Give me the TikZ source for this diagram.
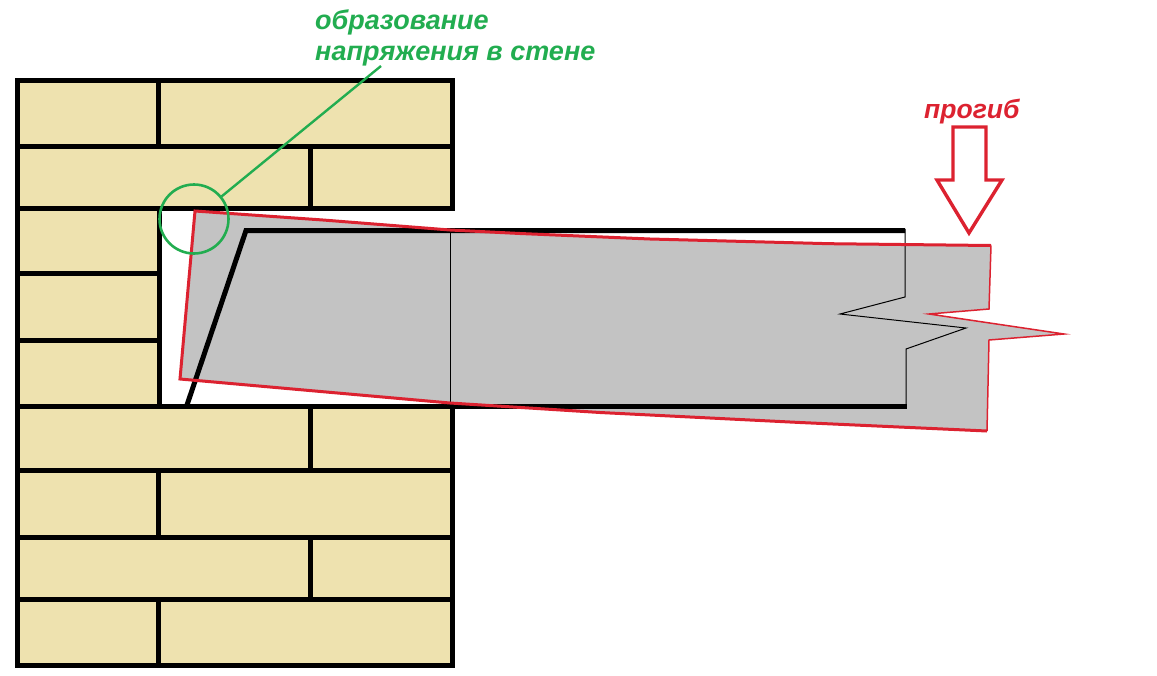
\documentclass[tikz,border=0pt]{standalone}
\usepackage{fontspec}
\setmainfont{Liberation Sans}
\definecolor{brick}{HTML}{EEE2AF}
\definecolor{slab}{HTML}{C3C3C3}
\definecolor{redink}{HTML}{DC2230}
\definecolor{greenink}{HTML}{22AD50}
\tikzset{
  mortar/.style={draw=black,line width=5pt,line cap=butt,line join=miter},
  slabfill/.style={fill=slab},
  redline/.style={draw=redink,line width=3pt,line join=miter},
  thinline/.style={draw=black,line width=1pt,line join=miter},
  loadarrow/.style={draw=redink,fill=white,line width=3.4pt,line join=miter},
  lbl/.style={font=\bfseries\itshape\fontsize{27}{31}\selectfont,anchor=base west,inner sep=0pt,align=left}
}
\begin{document}
\begin{tikzpicture}[x=1pt,y=-1pt]
\useasboundingbox (0,0) rectangle (1157,675);
% wall
\fill[brick] (17,80) -- (453,80) -- (453,208) -- (160,208) -- (160,405) -- (453,405) -- (453,665) -- (17,665) -- cycle;
% slab (deflected)
\path[slabfill] (195,211) -- (323,220) -- (450,230) -- (520,233.5) -- (650,239) -- (830,243.7) -- (991,245.5) -- (989,309) -- (929,314) -- (1064,334) -- (989,340) -- (987,431) -- (800,422.5) -- (600,412.5) -- (450,403) -- (180,379) -- cycle;
% wall outline and joints
\draw[mortar] (17,80.5) -- (452.5,80.5) -- (452.5,208.5) -- (159,208.5) -- (159,406) -- (452.5,406) -- (452.5,665.5) -- (17,665.5) -- cycle;
\draw[mortar] (452.5,406.5) -- (907,406.5);
\draw[mortar] (17,146.5) -- (452.5,146.5);
\draw[mortar] (17,208.5) -- (159,208.5);
\draw[mortar] (17,273.5) -- (159,273.5);
\draw[mortar] (17,340.5) -- (159,340.5);
\draw[mortar] (17,406) -- (159,406);
\draw[mortar] (17,470.5) -- (452.5,470.5);
\draw[mortar] (17,537.5) -- (452.5,537.5);
\draw[mortar] (17,599.5) -- (452.5,599.5);
\draw[mortar] (158.5,80.5) -- (158.5,146.5);
\draw[mortar] (310.5,146.5) -- (310.5,208.5);
\draw[mortar] (310.5,406) -- (310.5,470.5);
\draw[mortar] (158.5,470.5) -- (158.5,537.5);
\draw[mortar] (310.5,537.5) -- (310.5,599.5);
\draw[mortar] (158.5,599.5) -- (158.5,665.5);
% original slab
\draw[mortar] (187,405) -- (246,230.5) -- (905,230.5);
\draw[thinline] (905,229) -- (905,297) -- (840,314) -- (966,328) -- (906,349) -- (906,406);
\draw[thinline] (450,231) -- (450,405);
% red outline on top
\draw[redline] (991,245.5) -- (830,243.7) -- (650,239) -- (520,233.5) -- (450,230) -- (323,220) -- (195,211) -- (180,379) -- (450,403) -- (600,412.5) -- (800,422.5) -- (987,431);
\draw[redink,line width=1.5pt,line join=miter] (991,245.5) -- (989,309) -- (929,314) -- (1064,334) -- (989,340) -- (987,431);
% load arrow
\path[loadarrow] (953,127) -- (986,127) -- (986,180) -- (1002,180) -- (969,233) -- (937,180) -- (953,180) -- cycle;
% annotation
\node[draw=greenink,line width=2.6pt,circle,inner sep=0pt,minimum size=69pt] (stress) at (194,219) {};
\coordinate (leaderend) at (381,66);
\draw[greenink,line width=2.4pt] (stress) -- (leaderend);
\node[lbl,text=greenink] (t1) at (315,29) {образование};
\node[lbl,text=greenink] (t2) at (315,60) {напряжения в стене};
\node[lbl,text=redink,font=\bfseries\itshape\fontsize{26.5}{31}\selectfont] (t3) at (924,118) {прогиб};
\end{tikzpicture}
\end{document}
